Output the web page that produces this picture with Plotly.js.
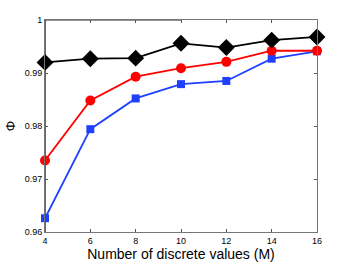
<!DOCTYPE html>
<html><head><meta charset="utf-8">
<script src="https://cdn.plot.ly/plotly-3.0.1.min.js"></script>
<style>html,body{margin:0;padding:0;background:#fff}#c{width:350px;height:264px}</style>
</head><body><div id="c"></div>
<script>
var M = [4, 6, 8, 10, 12, 14, 16];
var blackSeries = [0.9920, 0.9927, 0.9928, 0.9956, 0.9948, 0.9962, 0.9968];
var redSeries = [0.9735, 0.9848, 0.9893, 0.9909, 0.9921, 0.9942, 0.9942];
var blueSeries = [0.9626, 0.9794, 0.9852, 0.9879, 0.9885, 0.9927, 0.9941];
var yTicks = [0.96, 0.97, 0.98, 0.99, 1];
var yTickText = ['0.96', '0.97', '0.98', '0.99', '1'];
var xTicks = [4, 6, 8, 10, 12, 14, 16];

var traces = [
  {x: M, y: blueSeries, mode: 'lines+markers', cliponaxis: false, line: {color: '#2040ff', width: 1.8},
   marker: {symbol: 'square', size: 8, color: '#2040ff'}},
  {x: M, y: redSeries, mode: 'lines+markers', cliponaxis: false, line: {color: '#ff0000', width: 1.8},
   marker: {symbol: 'circle', size: 10, color: '#ff0000'}},
  {x: M, y: blackSeries, mode: 'lines+markers', cliponaxis: false, line: {color: '#000000', width: 1.8},
   marker: {symbol: 'diamond', size: 13, color: '#000000'}}
];
var layout = {
  width: 350, height: 264,
  margin: {l: 45, r: 33, t: 20, b: 32},
  showlegend: false,
  paper_bgcolor: '#fff', plot_bgcolor: '#fff',
  font: {family: 'Liberation Sans, Arial, sans-serif', color: '#000', size: 9},
  shapes: [
    {type: 'line', xref: 'paper', yref: 'paper', x0: 0, x1: 0, y0: 0, y1: 1, line: {color: '#000', width: 1.2}, layer: 'below'},
    {type: 'line', xref: 'paper', yref: 'paper', x0: 0, x1: 0.5, y0: 1, y1: 1, line: {color: '#222', width: 1}, layer: 'below'}
  ],
  xaxis: {range: [4, 16], tickvals: xTicks, ticks: 'inside', ticklen: 3, tickcolor: '#555',
    showline: true, linecolor: '#777', linewidth: 1, mirror: 'ticks', showgrid: false, zeroline: false,
    tickfont: {size: 9},
    title: {text: 'Number of discrete values (M)', font: {size: 14}, standoff: 4}},
  yaxis: {range: [0.96, 1], tickvals: yTicks, ticktext: yTickText, ticks: 'inside', ticklen: 3, tickcolor: '#555',
    showline: true, linecolor: '#777', linewidth: 1, mirror: 'ticks', showgrid: false, zeroline: false,
    tickfont: {size: 9},
    title: {text: 'Φ', font: {size: 13}, standoff: 6}}
};
Plotly.newPlot('c', traces, layout, {displayModeBar: false, staticPlot: true});
</script></body></html>
